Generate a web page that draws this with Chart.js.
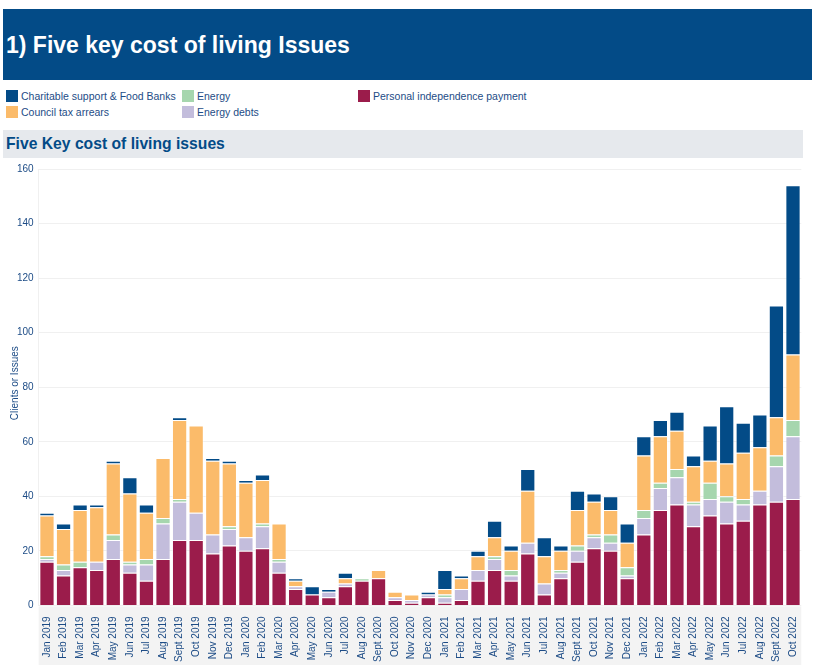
<!DOCTYPE html>
<html>
<head>
<meta charset="utf-8">
<script src="https://cdn.jsdelivr.net/npm/chart.js@4/dist/chart.umd.min.js"></script>
<style>
  body { margin: 0; background: #fff; font-family: "Liberation Sans", Arial, sans-serif; }
  #header { position: absolute; left: 3px; top: 9px; width: 809px; height: 71px; background: #034b87; }
  #header h1 { margin: 0; position: absolute; left: 3px; top: 23px; color: #fff; font-size: 23px; font-weight: bold; }
  #legend { position: absolute; left: 6px; top: 90px; width: 600px; }
  .item { position: absolute; font-size: 10.5px; color: #1d4c86; white-space: nowrap; }
  .item span.box { display: inline-block; width: 12px; height: 12px; vertical-align: -2px; margin-right: 3px; }
  #sub { position: absolute; left: 3px; top: 130px; width: 800px; height: 28px; background: #e6e9ed; }
  #sub h2 { margin: 0; position: absolute; left: 3px; top: 5px; font-size: 15.7px; font-weight: bold; color: #034b87; }
  #wrap { position: absolute; left: 0; top: 158px; width: 808px; height: 507px; }
</style>
</head>
<body>
<div id="header"><h1>1) Five key cost of living Issues</h1></div>
<div id="legend"></div>
<div id="sub"><h2>Five Key cost of living issues</h2></div>
<div id="wrap"><canvas id="chart"></canvas></div>
<script>
// months shown on the x axis
const months = [
  'Jan 2019', 'Feb 2019', 'Mar 2019', 'Apr 2019', 'May 2019', 'Jun 2019', 'Jul 2019', 'Aug 2019',
  'Sept 2019', 'Oct 2019', 'Nov 2019', 'Dec 2019', 'Jan 2020', 'Feb 2020', 'Mar 2020', 'Apr 2020',
  'May 2020', 'Jun 2020', 'Jul 2020', 'Aug 2020', 'Sept 2020', 'Oct 2020', 'Nov 2020', 'Dec 2020',
  'Jan 2021', 'Feb 2021', 'Mar 2021', 'Apr 2021', 'May 2021', 'Jun 2021', 'Jul 2021', 'Aug 2021',
  'Sept 2021', 'Oct 2021', 'Nov 2021', 'Dec 2021', 'Jan 2022', 'Feb 2022', 'Mar 2022', 'Apr 2022',
  'May 2022', 'Jun 2022', 'Jul 2022', 'Aug 2022', 'Sept 2022', 'Oct 2022'
];

// values per series (stacked bottom to top)
const pip = [16, 11, 14, 13, 17, 12, 9, 17, 24, 24, 19, 22, 20, 21, 12, 6,
  4, 3, 7, 9, 10, 2, 1, 3, 1, 2, 9, 13, 9, 19, 4, 10,
  16, 21, 20, 10, 26, 35, 37, 29, 33, 30, 31, 37, 38, 39];
const energyDebts = [1, 2, 0, 3, 7, 3, 6, 13, 14, 10, 7, 6, 5, 8, 4, 1,
  0, 2, 1, 0, 0, 1, 1, 1, 2, 4, 4, 4, 2, 4, 4, 2,
  4, 4, 3, 1, 6, 8, 10, 8, 6, 8, 6, 5, 13, 23];
const energy = [1, 2, 2, 0, 2, 1, 2, 2, 1, 0, 0, 1, 0, 1, 1, 0,
  0, 0, 0, 1, 0, 0, 0, 0, 1, 0, 0, 1, 2, 0, 0, 1,
  2, 1, 3, 3, 3, 2, 3, 1, 6, 2, 2, 0, 4, 6];
const councilTax = [15, 13, 19, 20, 26, 25, 17, 22, 29, 32, 27, 23, 20, 16, 13, 2,
  0, 0, 2, 0, 3, 2, 2, 0, 2, 4, 5, 7, 7, 19, 10, 7,
  13, 12, 9, 9, 20, 17, 14, 13, 8, 12, 17, 16, 14, 24];
const charitable = [1, 2, 2, 1, 1, 6, 3, 0, 1, 0, 1, 1, 1, 2, 0, 1,
  3, 1, 2, 0, 0, 0, 0, 1, 7, 1, 2, 6, 2, 8, 7, 2,
  7, 3, 5, 7, 7, 6, 7, 4, 13, 21, 11, 12, 41, 62];

const yTicks = [0, 20, 40, 60, 80, 100, 120, 140, 160];
const yTitle = 'Clients or Issues';

const series = [
  { label: 'Personal independence payment', data: pip, color: '#9b1c4b' },
  { label: 'Energy debts', data: energyDebts, color: '#c3bddc' },
  { label: 'Energy', data: energy, color: '#a6d6ae' },
  { label: 'Council tax arrears', data: councilTax, color: '#fbbb6a' },
  { label: 'Charitable support & Food Banks', data: charitable, color: '#034b87' }
];

// legend is laid out in columns, alphabetical like the original
const legendSpots = {
  'Charitable support & Food Banks': [0, 0],
  'Council tax arrears': [0, 16],
  'Energy': [176, 0],
  'Energy debts': [176, 16],
  'Personal independence payment': [352, 0]
};
const legendBox = document.getElementById('legend');
series.forEach(s => {
  const pos = legendSpots[s.label];
  legendBox.insertAdjacentHTML('beforeend',
    `<div class="item" style="left:${pos[0]}px;top:${pos[1]}px"><span class="box" style="background:${s.color}"></span>${s.label}</div>`);
});

// grey strip behind the x labels + y axis title close to the ticks
const extras = {
  id: 'extras',
  beforeDraw(chart) {
    const { ctx, chartArea } = chart;
    ctx.save();
    ctx.fillStyle = '#f3f3f3';
    ctx.fillRect(chartArea.left, chartArea.bottom + 1, chartArea.right - chartArea.left, chart.height - chartArea.bottom - 1);
    ctx.restore();
  },
  afterDraw(chart) {
    const { ctx, chartArea } = chart;
    ctx.save();
    ctx.translate(15, (chartArea.top + chartArea.bottom) / 2 - 4);
    ctx.rotate(-Math.PI / 2);
    ctx.fillStyle = '#1d4c86';
    ctx.font = '10px "Liberation Sans"';
    ctx.textAlign = 'center';
    ctx.textBaseline = 'middle';
    ctx.fillText(yTitle, 0, 0);
    ctx.restore();
  }
};

const ctx = document.getElementById('chart').getContext('2d');
new Chart(ctx, {
  type: 'bar',
  data: {
    labels: months,
    datasets: series.map(s => ({
      label: s.label,
      data: s.data,
      backgroundColor: s.color,
      borderColor: 'rgba(255,255,255,0.45)',
      borderWidth: 1,
      barPercentage: 0.92,
      categoryPercentage: 1
    }))
  },
  options: {
    responsive: true,
    maintainAspectRatio: false,
    animation: false,
    layout: { padding: { top: 0, right: 0, bottom: 0, left: 12 } },
    plugins: { legend: { display: false }, tooltip: { enabled: false } },
    scales: {
      x: {
        stacked: true,
        grid: { display: false },
        border: { display: false },
        ticks: {
          color: '#1d4c86',
          font: { family: 'Liberation Sans', size: 10 },
          minRotation: 90,
          maxRotation: 90,
          autoSkip: false,
          padding: 3
        }
      },
      y: {
        stacked: true,
        min: 0,
        max: 160,
        afterBuildTicks(axis) { axis.ticks = yTicks.map(v => ({ value: v })); },
        grid: { color: '#f0f0f0', drawTicks: false },
        border: { color: '#f0f0f0' },
        ticks: {
          color: '#1d4c86',
          font: { family: 'Liberation Sans', size: 10 },
          padding: 5
        }
      }
    }
  },
  plugins: [extras]
});
</script>
</body>
</html>
